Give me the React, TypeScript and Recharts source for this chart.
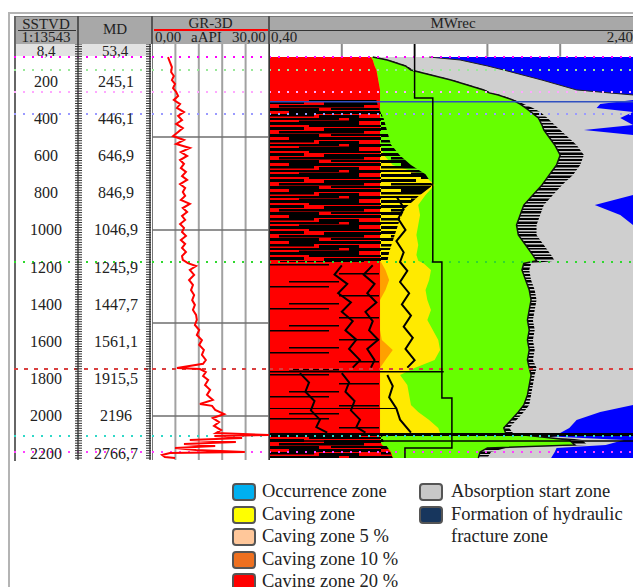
import React from "react";
import { ComposedChart, Line, Area, Scatter, XAxis, YAxis, ReferenceLine } from "recharts";

const DEPTH_MAX = 2237; // depth at the bottom of a 416px track
const PX_PER_M = 416 / DEPTH_MAX;

// depth track labels
const sstvdLabels = [200, 400, 600, 800, 1000, 1200, 1400, 1600, 1800, 2000, 2200];
const mdLabels = ["245,1", "446,1", "646,9", "846,9", "1046,9", "1245,9", "1447,7", "1561,1", "1915,5", "2196", "2766,7"];

// formation tops (dotted lines)
const topDepths = [70, 140, 258, 376, 1172, 1748, 2108, 2194];
const topColors = ["#ff00ff", "#9be89b", "#ffa8ff", "#9a9aff", "#2fd82f", "#d84040", "#30d8c8", "#ff40ff"];

// GR-3D curve
const grDepth = [70, 97, 124, 151, 172, 194, 215, 237, 258, 280, 301, 323, 344, 366, 387, 409, 430, 452, 473, 495, 516, 538, 559, 581, 602, 624, 645, 667, 688, 710, 731, 753, 774, 796, 817, 839, 860, 882, 903, 925, 946, 968, 989, 1011, 1032, 1054, 1075, 1097, 1118, 1140, 1161, 1178, 1194, 1215, 1242, 1269, 1296, 1323, 1350, 1377, 1403, 1430, 1457, 1484, 1511, 1538, 1565, 1592, 1618, 1645, 1672, 1699, 1720, 1742, 1748, 1764, 1785, 1807, 1834, 1860, 1887, 1914, 1936, 1946, 1968, 1990, 2011, 2033, 2054, 2076, 2092, 2103, 2108, 2119, 2129, 2140, 2151, 2162, 2172, 2183, 2194, 2199, 2210, 2221, 2226];
const grValue = [4.1, 4.6, 5.1, 4.9, 5.6, 5.1, 5.9, 5.4, 6.2, 6.7, 5.6, 7.2, 6.4, 8.2, 6.7, 7.7, 6.2, 7.9, 6.7, 5.4, 8.2, 6.2, 9.7, 7.4, 9.0, 7.2, 8.2, 7.4, 8.7, 7.7, 9.0, 7.2, 8.5, 7.9, 8.5, 7.4, 9.7, 7.9, 9.0, 7.7, 8.5, 7.2, 8.2, 7.7, 8.7, 7.4, 8.5, 7.7, 8.7, 7.7, 7.9, 9.2, 11.3, 9.7, 10.8, 9.5, 10.5, 10.0, 10.8, 10.3, 11.0, 10.5, 11.3, 11.5, 11.0, 12.1, 11.5, 12.8, 12.1, 13.3, 12.8, 13.8, 13.1, 6.4, 12.3, 13.8, 13.1, 14.4, 13.6, 14.9, 14.1, 15.6, 12.3, 15.4, 16.2, 18.5, 15.6, 17.2, 15.9, 17.7, 16.4, 30.0, 16.0, 23.1, 9.7, 21.5, 8.2, 16.2, 5.9, 11.3, 23.8, 4.6, 2.6, 3.3, 5.9];
const grGrid = [0, 6, 12, 18, 24, 30];
const depthGrid = [500, 1000, 1500, 2000];

// MWrec zone boundaries (right edge of each zone)
const zoneDepth = [70, 86, 118, 140, 194, 247, 263, 274, 301, 323, 344, 366, 398, 436, 462, 489, 543, 597, 651, 704, 758, 812, 866, 919, 973, 1027, 1081, 1135, 1165, 1180, 1215, 1269, 1323, 1377, 1430, 1484, 1538, 1592, 1645, 1699, 1742, 1780, 1834, 1887, 1941, 1979, 2022, 2065, 2092, 2108, 2129, 2156, 2172, 2194, 2226];
const redEdge = [0.96, 0.97, 0.98, 0.99, 1.0, 1.01, 1.01, 1.01, 1.01, 1.01, 1.01, 1.01, 1.01, 1.01, 1.01, 1.01, 1.01, 1.01, 1.01, 1.01, 1.01, 1.01, 1.01, 1.01, 1.01, 1.01, 1.01, 1.01, 1.01, 1.01, 1.01, 1.01, 1.01, 1.01, 1.01, 1.01, 1.01, 1.01, 1.01, 1.01, 1.01, 1.01, 1.01, 1.01, 1.01, 1.01, 1.01, 1.01, 1.01, 1.01, 1.01, 1.02, 1.05, 1.07, 1.08];
const orangeEdge = [0.96, 0.97, 0.98, 0.99, 1.0, 1.01, 1.01, 1.01, 1.01, 1.01, 1.01, 1.01, 1.01, 1.01, 1.01, 1.01, 1.01, 1.01, 1.01, 1.01, 1.01, 1.01, 1.01, 1.01, 1.01, 1.01, 1.01, 1.01, 1.01, 1.02, 1.04, 1.06, 1.04, 1.01, 1.01, 1.01, 1.01, 1.02, 1.08, 1.04, 1.01, 1.01, 1.01, 1.01, 1.01, 1.01, 1.01, 1.01, 1.01, 1.01, 1.01, 1.02, 1.05, 1.07, 1.08];
const yellowEdge = [0.96, 0.97, 0.98, 0.99, 1.0, 1.01, 1.01, 1.01, 1.01, 1.01, 1.01, 1.01, 1.01, 1.01, 1.01, 1.01, 1.01, 1.03, 1.08, 1.25, 1.31, 1.26, 1.22, 1.23, 1.22, 1.21, 1.22, 1.21, 1.22, 1.25, 1.29, 1.28, 1.26, 1.27, 1.29, 1.27, 1.3, 1.33, 1.34, 1.31, 1.2, 1.12, 1.16, 1.17, 1.18, 1.22, 1.28, 1.33, 1.34, 1.01, 1.01, 1.02, 1.05, 1.07, 1.08];
const greenEdge = [0.97, 1.05, 1.15, 1.18, 1.4, 1.58, 1.61, 1.66, 1.74, 1.78, 1.81, 1.84, 1.88, 1.9, 1.91, 1.93, 1.97, 2.0, 1.98, 1.94, 1.9, 1.85, 1.8, 1.78, 1.76, 1.77, 1.81, 1.85, 1.87, 1.8, 1.79, 1.81, 1.83, 1.84, 1.83, 1.82, 1.83, 1.82, 1.83, 1.82, 1.83, 1.84, 1.83, 1.82, 1.8, 1.77, 1.73, 1.69, 1.7, 1.85, 2.05, 2.08, 1.6, 1.56, 1.55];
const blackEdge = [0.98, 1.06, 1.16, 1.19, 1.41, 1.59, 1.62, 1.67, 1.75, 1.8, 1.85, 1.89, 1.93, 1.97, 2.0, 2.03, 2.09, 2.13, 2.11, 2.07, 2.01, 1.96, 1.91, 1.89, 1.87, 1.87, 1.91, 1.95, 1.97, 1.84, 1.83, 1.84, 1.86, 1.87, 1.86, 1.85, 1.86, 1.85, 1.86, 1.85, 1.87, 1.86, 1.85, 1.84, 1.83, 1.8, 1.76, 1.72, 1.74, 1.95, 2.12, 2.15, 1.7, 1.62, 1.6];
const grayEdge = [1.28, 1.45, 1.6, 1.69, 1.9, 2.09, 2.27, 2.4, 2.4, 2.22, 2.2, 2.4, 2.33, 2.4, 2.13, 2.4, 2.4, 2.4, 2.4, 2.4, 2.4, 2.4, 2.19, 2.33, 2.4, 2.4, 2.4, 2.4, 2.4, 2.4, 2.4, 2.4, 2.4, 2.4, 2.4, 2.4, 2.4, 2.4, 2.4, 2.4, 2.4, 2.4, 2.4, 2.4, 2.4, 2.22, 2.09, 2.05, 2.0, 1.9, 2.35, 2.25, 1.98, 1.97, 1.95];

// streaky caving mass over the red / yellow zones
const massDepth = [301, 340, 400, 470, 540, 600, 650, 700, 760, 820, 880, 940, 1000, 1060, 1120, 1172];
const massValue = [0.99, 1.0, 1.03, 1.05, 1.07, 1.12, 1.18, 1.26, 1.3, 1.22, 1.15, 1.12, 1.1, 1.08, 1.06, 1.05];
const mass2Depth = [1180, 1400, 1748, 1760, 1900, 2092];
const mass2Value = [1.01, 1.01, 1.01, 1.01, 1.01, 1.01];
const mass3Depth = [2100, 2140, 2180, 2226];
const mass3Value = [1.02, 1.03, 1.06, 1.08];

// ragged black traces inside the caving zones
const jagADepth = [1190, 1240, 1290, 1340, 1390, 1440, 1490, 1540, 1590, 1640, 1700, 1740];
const jagAValue = [0.8, 0.76, 0.83, 0.78, 0.85, 0.8, 0.86, 0.82, 0.88, 0.84, 0.9, 0.86];
const jagBValue = [0.97, 0.92, 0.98, 0.94, 0.99, 0.93, 0.97, 0.95, 1.0, 0.94, 0.98, 0.96];
const jagCDepth = [1770, 1820, 1870, 1920, 1970, 2020, 2060, 2090];
const jagCValue = [0.57, 0.62, 0.6, 0.65, 0.63, 0.68, 0.66, 0.72];
const jagDValue = [0.8, 0.84, 0.82, 0.87, 0.85, 0.9, 0.88, 0.93];
const jagEDepth = [820, 880, 940, 1000, 1060, 1120, 1172, 1220, 1280, 1340, 1400, 1460, 1520, 1580, 1640, 1700, 1740];
const jagEValue = [1.1, 1.14, 1.11, 1.15, 1.1, 1.14, 1.12, 1.16, 1.12, 1.17, 1.13, 1.18, 1.14, 1.19, 1.15, 1.2, 1.16];
const jagFDepth = [1780, 1840, 1900, 1960, 2020, 2090];
const jagFValue = [1.05, 1.08, 1.06, 1.1, 1.12, 1.18];

// recommended mud weight step curve
const mwDepth = [0, 290, 290, 1172, 1172, 1904, 1904, 2172, 2172, 2226];
const mwValue = [1.2, 1.2, 1.3, 1.3, 1.35, 1.35, 1.405, 1.405, 1.147, 1.147];
const mwTicks = [0.8, 1.2, 1.6, 2.0];

const legendLeft = [
  { name: "Occurrence zone", color: "#00b0f0" },
  { name: "Caving zone", color: "#ffff00" },
  { name: "Caving zone 5 %", color: "#ffc79a" },
  { name: "Caving zone 10 %", color: "#ee7020" },
  { name: "Caving zone 20 %", color: "#ff0000" },
];
const legendRight = [
  { name: "Absorption start zone", color: "#c8c8c8" },
  { name: "Formation of hydraulic\nfracture zone", color: "#17365d" },
];

const pairs = (d: number[], v: number[]) => d.map((depth, i) => ({ depth, v: v[i] }));
const zoneRows = zoneDepth.map((depth, i) => ({
  depth,
  red: redEdge[i],
  orange: orangeEdge[i],
  yellow: yellowEdge[i],
  green: greenEdge[i],
  black: blackEdge[i],
  gray: grayEdge[i],
}));
const blueRows = [{ depth: zoneDepth[0], v: 2.4 }, { depth: zoneDepth[zoneDepth.length - 1], v: 2.4 }];
const labelRows = sstvdLabels.map((depth, i) => ({ depth, v: 0, md: mdLabels[i] }));
const rulerRows = Array.from({ length: 168 }, (_, k) => ({ depth: k * (200 / 15), v: 0 }));

const serif = "'Liberation Serif', 'DejaVu Serif', serif";

function LabelMark(props: any) {
  const { cy, payload } = props;
  return (
    <g>
      <text x={32} y={cy} textAnchor="middle" dominantBaseline="central" fontSize={16} fill="#222" fontFamily={serif}>
        {payload.depth}
      </text>
      <text x={102} y={cy} textAnchor="middle" dominantBaseline="central" fontSize={16} fill="#222" fontFamily={serif}>
        {payload.md}
      </text>
    </g>
  );
}

function RulerMark(props: any) {
  const { cy } = props;
  if (cy > 458) return <g />;
  return (
    <g>
      <line x1={61} x2={68} y1={cy} y2={cy} stroke="#333" strokeWidth={1} />
      <line x1={132} x2={137} y1={cy} y2={cy} stroke="#333" strokeWidth={1} />
    </g>
  );
}

const tops = (x1: number, x2: number) =>
  topDepths.map((d, i) => (
    <ReferenceLine
      key={"top" + i}
      segment={[{ x: x1, y: d }, { x: x2, y: d }]}
      stroke={topColors[i]}
      strokeWidth={2}
      strokeDasharray={i === 5 ? "4 6" : "2 7"}
    />
  ));

function DepthTrack() {
  const h = 426;
  const dMax = h / PX_PER_M;
  return (
    <div style={{ position: "absolute", left: 14, top: 44 }}>
      <ComposedChart layout="vertical" width={138} height={h} margin={{ top: 0, right: 0, bottom: 0, left: 0 }}>
        <XAxis type="number" dataKey="v" domain={[0, 138]} hide />
        <YAxis type="number" dataKey="depth" domain={[0, dMax]} hide allowDataOverflow />
        {tops(0, 138)}
        <ReferenceLine segment={[{ x: 64, y: 0 }, { x: 64, y: DEPTH_MAX }]} stroke="#444" strokeWidth={1.5} />
        <ReferenceLine segment={[{ x: 136, y: 0 }, { x: 136, y: DEPTH_MAX }]} stroke="#444" strokeWidth={1.5} />
        <Scatter data={rulerRows} dataKey="v" shape={<RulerMark />} isAnimationActive={false} />
        <Scatter data={labelRows} dataKey="v" shape={<LabelMark />} isAnimationActive={false} />
      </ComposedChart>
    </div>
  );
}

function GrTrack() {
  return (
    <div style={{ position: "absolute", left: 152, top: 44 }}>
      <ComposedChart layout="vertical" width={117} height={416} margin={{ top: 0, right: 0, bottom: 0, left: 0 }}>
        <XAxis type="number" domain={[0, 30]} hide allowDataOverflow />
        <YAxis type="number" dataKey="depth" domain={[0, DEPTH_MAX]} hide allowDataOverflow />
        {grGrid.map((g) => (
          <ReferenceLine key={"gx" + g} x={g} stroke={g === 0 || g === 30 ? "#777" : "#a2a2a2"} strokeWidth={2} />
        ))}
        {depthGrid.map((d) => (
          <ReferenceLine key={"gy" + d} y={d} stroke="#6e6e6e" strokeWidth={1.5} />
        ))}
        {tops(0, 30)}
        <Line data={pairs(grDepth, grValue)} dataKey="v" type="linear" stroke="#ff0000" strokeWidth={2} dot={false} activeDot={false} isAnimationActive={false} />
      </ComposedChart>
    </div>
  );
}

function StreakDefs() {
  const dense = [
    [0, 0, 90, 3], [40, 3, 72, 2], [0, 5, 35, 3], [55, 6, 57, 3], [10, 9, 85, 2.5], [0, 12, 50, 3],
    [62, 12, 50, 2], [20, 15, 92, 3], [0, 18, 45, 2.5], [50, 19, 40, 3], [0, 22, 70, 2], [80, 22, 32, 3], [30, 24.5, 60, 1.5],
  ];
  const sparse = [[0, 0, 60, 1.5], [70, 9, 40, 1.5], [20, 17, 50, 1.5]];
  const edge = [[0, 0, 2], [0, 3.5, 1.5], [0, 6, 2.5], [0, 10, 1.5], [0, 13, 2], [0, 16.5, 2.5], [0, 20, 1.5]];
  return (
    <defs>
      <pattern id="streakDense" patternUnits="userSpaceOnUse" width={112} height={26}>
        {dense.map((r, i) => <rect key={i} x={r[0]} y={r[1]} width={r[2]} height={r[3]} fill="#000" />)}
      </pattern>
      <pattern id="streakSparse" patternUnits="userSpaceOnUse" width={112} height={22}>
        {sparse.map((r, i) => <rect key={i} x={r[0]} y={r[1]} width={r[2]} height={r[3]} fill="#000" />)}
      </pattern>
      <pattern id="streakEdge" patternUnits="userSpaceOnUse" width={50} height={23}>
        <rect x={0} y={0} width={50} height={23} fill="#cfcfcf" />
        {edge.map((r, i) => <rect key={i} x={r[0]} y={r[1]} width={50} height={r[2]} fill="#000" />)}
      </pattern>
    </defs>
  );
}

function MwTrack() {
  const areaProps = { type: "linear" as const, stroke: "none", fillOpacity: 1, dot: false, activeDot: false, isAnimationActive: false };
  const jag = { type: "linear" as const, stroke: "#000", strokeWidth: 2, dot: false, activeDot: false, isAnimationActive: false };
  return (
    <div style={{ position: "absolute", left: 269, top: 44 }}>
      <ComposedChart layout="vertical" width={364} height={416} margin={{ top: 0, right: 0, bottom: 0, left: 0 }}>
        <StreakDefs />
        <XAxis type="number" domain={[0.4, 2.4]} hide allowDataOverflow />
        <YAxis type="number" dataKey="depth" domain={[0, DEPTH_MAX]} hide allowDataOverflow />
        <Area {...areaProps} data={blueRows} dataKey="v" fill="#0000ff" />
        <Area {...areaProps} data={zoneRows} dataKey="gray" fill="#cfcfcf" />
        <Area {...areaProps} data={zoneRows} dataKey="black" fill="url(#streakEdge)" />
        <Area {...areaProps} data={zoneRows} dataKey="green" fill="#66ff00" />
        <Area {...areaProps} data={zoneRows} dataKey="yellow" fill="#ffea00" />
        <Area {...areaProps} data={zoneRows} dataKey="orange" fill="#ffa000" />
        <Area {...areaProps} data={zoneRows} dataKey="red" fill="#ff0000" />
        <Area {...areaProps} data={pairs(massDepth, massValue)} dataKey="v" fill="url(#streakDense)" />
        <Area {...areaProps} data={pairs(mass2Depth, mass2Value)} dataKey="v" fill="url(#streakSparse)" />
        <Area {...areaProps} data={pairs(mass3Depth, mass3Value)} dataKey="v" fill="url(#streakDense)" />
        <Line {...jag} data={pairs(jagADepth, jagAValue)} dataKey="v" />
        <Line {...jag} data={pairs(jagADepth, jagBValue)} dataKey="v" />
        <Line {...jag} data={pairs(jagCDepth, jagCValue)} dataKey="v" />
        <Line {...jag} data={pairs(jagCDepth, jagDValue)} dataKey="v" />
        <Line {...jag} data={pairs(jagEDepth, jagEValue)} dataKey="v" />
        <Line {...jag} data={pairs(jagFDepth, jagFValue)} dataKey="v" />
        <Line {...jag} data={zoneRows} dataKey="green" strokeWidth={1.5} stroke="#111" />
        <Line {...jag} data={zoneRows.slice(0, 8)} dataKey="gray" strokeWidth={1} stroke="#222" />
        <ReferenceLine y={310} stroke="#3050c0" strokeWidth={1.5} />
        <ReferenceLine segment={[{ x: 0.4, y: 1762 }, { x: 1.36, y: 1762 }]} stroke="#000" strokeWidth={1.5} />
        <ReferenceLine segment={[{ x: 0.4, y: 1960 }, { x: 1.1, y: 1960 }]} stroke="#000" strokeWidth={1} />
        <ReferenceLine y={2100} stroke="#000" strokeWidth={3} />
        <ReferenceLine y={2135} stroke="#000" strokeWidth={1.5} />
        {mwTicks.map((t) => (
          <ReferenceLine key={"mt" + t} segment={[{ x: t, y: 0 }, { x: t, y: 68 }]} stroke="#8a8a8a" strokeWidth={2} />
        ))}
        {tops(0.4, 2.4)}
        <Line data={pairs(mwDepth, mwValue)} dataKey="v" type="linear" stroke="#000" strokeWidth={1.5} dot={false} activeDot={false} isAnimationActive={false} />
        <ReferenceLine x={0.4} stroke="#333" strokeWidth={2} />
      </ComposedChart>
    </div>
  );
}

const abs = (s: React.CSSProperties): React.CSSProperties => ({ position: "absolute", ...s });

function Header() {
  const t: React.CSSProperties = { fontSize: 15, lineHeight: "12px", whiteSpace: "nowrap" };
  return (
    <>
      <div style={abs({ left: 14, top: 16, width: 619, height: 27, background: "#a8a8a8", borderTop: "1px solid #777" })} />
      <div style={abs({ left: 14, top: 16, width: 2, height: 445, background: "#666" })} />
      <div style={abs({ left: 77, top: 16, width: 2, height: 28, background: "#555" })} />
      <div style={abs({ left: 151, top: 16, width: 2, height: 28, background: "#555" })} />
      <div style={abs({ left: 268, top: 16, width: 2, height: 28, background: "#555" })} />
      <div style={abs({ ...t, left: 14, top: 18, width: 64, textAlign: "center" })}>SSTVD</div>
      <div style={abs({ left: 18, top: 30, width: 58, height: 1, background: "#333" })} />
      <div style={abs({ ...t, left: 14, top: 31, width: 64, textAlign: "center" })}>1:13543</div>
      <div style={abs({ ...t, left: 78, top: 23, width: 74, textAlign: "center" })}>MD</div>
      <div style={abs({ ...t, left: 152, top: 17, width: 117, textAlign: "center" })}>GR-3D</div>
      <div style={abs({ left: 154, top: 29, width: 114, height: 2, background: "#ff0000" })} />
      <div style={abs({ ...t, left: 155, top: 31 })}>0,00</div>
      <div style={abs({ ...t, left: 191, top: 31 })}>aAPI</div>
      <div style={abs({ ...t, left: 232, top: 31 })}>30,00</div>
      <div style={abs({ ...t, left: 269, top: 17, width: 364, textAlign: "center", paddingLeft: 4, boxSizing: "border-box" })}>MWrec</div>
      <div style={abs({ left: 270, top: 30, width: 363, height: 1, background: "#333" })} />
      <div style={abs({ ...t, left: 271, top: 31 })}>0,40</div>
      <div style={abs({ ...t, right: 0, top: 31 })}>2,40</div>
      <div style={abs({ left: 16, top: 44, width: 134, height: 12, background: "#e2e2e2" })} />
      <div style={abs({ ...t, left: 14, top: 45, width: 64, textAlign: "center" })}>8,4</div>
      <div style={abs({ ...t, left: 78, top: 45, width: 74, textAlign: "center" })}>53,4</div>
    </>
  );
}

function Swatch({ color, left, top }: { color: string; left: number; top: number }) {
  return (
    <div
      style={abs({
        left,
        top,
        width: 20,
        height: 14,
        background: color,
        border: "2px solid #555",
        borderRadius: 4,
      })}
    />
  );
}

function LegendBlock() {
  const t: React.CSSProperties = { fontSize: 18.5, lineHeight: "22.5px", whiteSpace: "pre", color: "#222" };
  return (
    <>
      {legendLeft.map((e, i) => (
        <React.Fragment key={e.name}>
          <Swatch color={e.color} left={232} top={483 + i * 22.5} />
          <div style={abs({ ...t, left: 262, top: 480 + i * 22.5 })}>{e.name}</div>
        </React.Fragment>
      ))}
      {legendRight.map((e, i) => (
        <React.Fragment key={e.name}>
          <Swatch color={e.color} left={419} top={483 + i * 22.5} />
          <div style={abs({ ...t, left: 451, top: 480 + i * 22.5 })}>{e.name}</div>
        </React.Fragment>
      ))}
    </>
  );
}

export default function App() {
  return (
    <div
      style={{
        position: "relative",
        width: 633,
        height: 587,
        overflow: "hidden",
        background: "#fff",
        fontFamily: serif,
        color: "#222",
      }}
    >
      <style>{"body{margin:0}"}</style>
      <div style={abs({ left: 8, top: 12, width: 700, height: 700, borderTop: "2px solid #b4b4b4", borderLeft: "2px solid #b4b4b4" })} />
      <Header />
      <DepthTrack />
      <GrTrack />
      <MwTrack />
      <LegendBlock />
    </div>
  );
}
